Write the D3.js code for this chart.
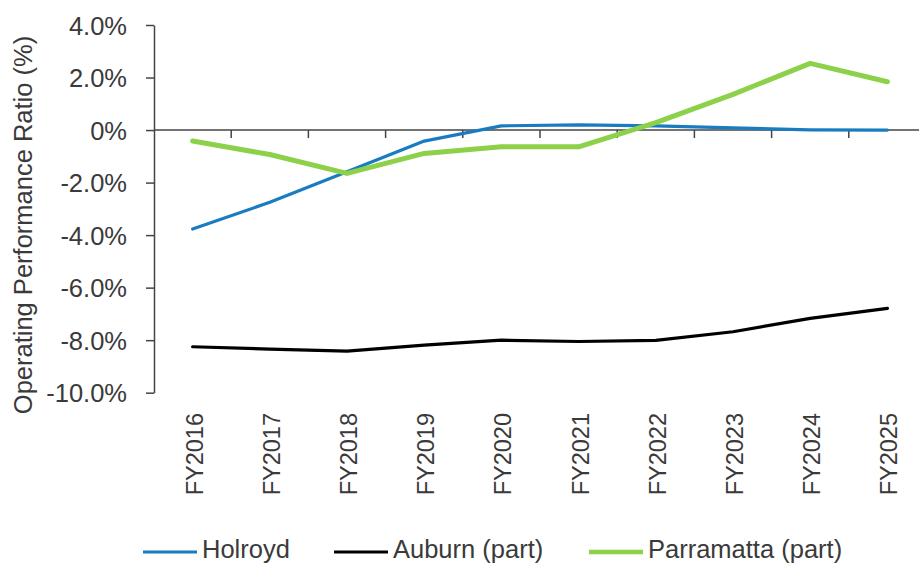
<!DOCTYPE html>
<html>
<head>
<meta charset="utf-8">
<script src="https://cdn.jsdelivr.net/npm/d3@7"></script>
<style>
  html, body { margin: 0; padding: 0; background: #fff; }
  svg text { font-family: "Liberation Sans", Arial, sans-serif; fill: #3a3a3a; }
</style>
</head>
<body>
<svg id="chart" width="919" height="564"></svg>
<script>
// Financial years on the category axis
const years = ["FY2016","FY2017","FY2018","FY2019","FY2020","FY2021","FY2022","FY2023","FY2024","FY2025"];

// Operating performance ratio (%) per council area
const holroyd    = [-3.77, -2.75, -1.59, -0.42, 0.16, 0.20, 0.16, 0.08, 0.01, 0.00];
const auburn     = [-8.25, -8.34, -8.42, -8.19, -8.00, -8.05, -8.01, -7.68, -7.17, -6.79];
const parramatta = [-0.42, -0.93, -1.65, -0.89, -0.64, -0.64, 0.28, 1.36, 2.54, 1.84];

const seriesNames  = ["Holroyd", "Auburn (part)", "Parramatta (part)"];
const seriesValues = [holroyd, auburn, parramatta];

// Y axis tick values (percent)
const yTicks = [4, 2, 0, -2, -4, -6, -8, -10];

const colors = ["#1a7cc0", "#000000", "#8dd04a"];
const widths = [3.2, 3.2, 5];

const svg = d3.select("#chart");
const plotLeft = 154, plotRight = 926, plotTop = 25, plotBottom = 392.7;

const x = d3.scaleBand().domain(years).range([plotLeft, plotRight]).padding(0);
const y = d3.scaleLinear().domain([-10, 4]).range([plotBottom, plotTop]);

// Percent labels with a plain hyphen for negatives
const fmt = v => v === 0 ? "0%" : (v < 0 ? "-" : "") + Math.abs(v).toFixed(1) + "%";

// Y axis
const yAxis = svg.append("g")
  .attr("transform", `translate(${plotLeft},0)`)
  .call(d3.axisLeft(y).tickValues(yTicks).tickFormat(fmt).tickSize(8).tickSizeOuter(0).tickPadding(19));
yAxis.select(".domain").attr("stroke", "#444").attr("stroke-width", 1.5);
yAxis.selectAll(".tick line").attr("stroke", "#444").attr("stroke-width", 1.5);
yAxis.selectAll(".tick text")
  .style("font-size", "25.5px")
  .style("font-family", "'Liberation Sans', Arial, sans-serif")
  .attr("fill", "#3a3a3a")
  .attr("dy", "0.36em");

// Category axis sitting on the zero line, ticks at category boundaries
const zeroY = y(0);
svg.append("line")
  .attr("x1", plotLeft).attr("x2", 919)
  .attr("y1", zeroY).attr("y2", zeroY)
  .attr("stroke", "#444").attr("stroke-width", 1.5);
svg.append("g").selectAll("line")
  .data(years.slice(1))
  .join("line")
  .attr("x1", d => x(d)).attr("x2", d => x(d))
  .attr("y1", zeroY).attr("y2", zeroY + 8)
  .attr("stroke", "#444").attr("stroke-width", 1.5);

// Category labels below the plot, rotated
svg.append("g").selectAll("text")
  .data(years)
  .join("text")
  .attr("transform", d => `translate(${x(d) + x.bandwidth() / 2 + 10},413) rotate(-90)`)
  .attr("text-anchor", "end")
  .style("font-size", "23.5px")
  .text(d => d);

// Axis title
svg.append("text")
  .attr("transform", "translate(32,225) rotate(-90)")
  .attr("text-anchor", "middle")
  .style("font-size", "25.5px")
  .text("Operating Performance Ratio (%)");

// Series lines
const line = d3.line()
  .x((d, i) => x(years[i]) + x.bandwidth() / 2)
  .y(d => y(d));

svg.append("g").selectAll("path")
  .data(seriesValues)
  .join("path")
  .attr("d", d => line(d))
  .attr("fill", "none")
  .attr("stroke", (d, i) => colors[i])
  .attr("stroke-width", (d, i) => widths[i])
  .attr("stroke-linejoin", "round")
  .attr("stroke-linecap", "round");

// Legend
const legendX = [143, 334, 589];
const legendY = 552;
const leg = svg.append("g").selectAll("g")
  .data(seriesNames)
  .join("g")
  .attr("transform", (d, i) => `translate(${legendX[i]},${legendY})`);
leg.append("line")
  .attr("x1", 0).attr("x2", 54).attr("y1", 0).attr("y2", 0)
  .attr("stroke", (d, i) => colors[i])
  .attr("stroke-width", (d, i) => i === 2 ? 4.5 : 3.2);
leg.append("text")
  .attr("x", 59).attr("y", 6)
  .style("font-size", "25.5px")
  .text(d => d);
</script>
</body>
</html>
